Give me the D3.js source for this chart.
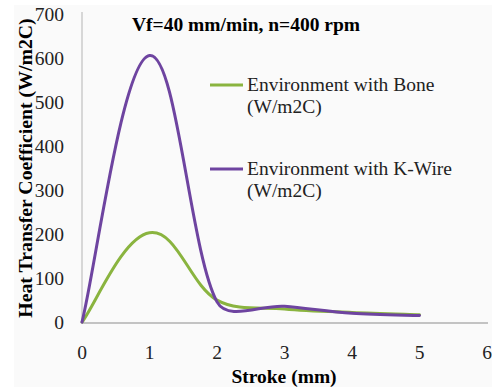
<!DOCTYPE html>
<html>
<head>
<meta charset="utf-8">
<script src="https://cdn.jsdelivr.net/npm/d3@7"></script>
<style>
  body { margin: 0; background: #fff; }
</style>
</head>
<body>
<div id="chart_div"></div>
<script>
// data
var stroke = [0, 1, 2, 3, 4, 5];
var boneValues = [2, 205, 52, 32, 24, 19];
var kwireValues = [2, 608, 48, 38, 22, 17];
var xTicks = [0, 1, 2, 3, 4, 5, 6];
var yTicks = [0, 100, 200, 300, 400, 500, 600, 700];
var seriesNames = ["Environment with Bone", "Environment with K-Wire"];
var seriesUnit = "(W/m2C)";
var seriesColors = ["#8ab43f", "#6e44a0"];

var W = 492, H = 392;
var margin = {top: 15, right: 5, bottom: 69, left: 82};
var serif = "'Liberation Serif', 'Times New Roman', serif";
var fs = "19.5px";

var svg = d3.select("#chart_div")
  .append("svg")
  .attr("width", W)
  .attr("height", H)
  .style("font-family", serif);

// light panel behind the chart
svg.append("rect")
  .attr("x", 14).attr("y", 5)
  .attr("width", W - 14).attr("height", 382)
  .attr("fill", "#fafafa");

var xScale = d3.scaleLinear().domain([0, 6]).range([margin.left, W - margin.right]);
var yScale = d3.scaleLinear().domain([0, 700]).range([H - margin.bottom, margin.top]);

// axes lines
svg.append("line")
  .attr("x1", xScale(0)).attr("x2", xScale(0))
  .attr("y1", yScale(700) - 3).attr("y2", yScale(0))
  .attr("stroke", "#b4b4b4").attr("stroke-width", 1);
svg.append("line")
  .attr("x1", xScale(0)).attr("x2", xScale(6) + 1)
  .attr("y1", yScale(0)).attr("y2", yScale(0))
  .attr("stroke", "#8c8c8c").attr("stroke-width", 1);

// tick labels
svg.selectAll(".y_tick").data(yTicks).enter()
  .append("text")
  .attr("class", "y_tick")
  .attr("x", xScale(0) - 18)
  .attr("y", function(d) { return yScale(d); })
  .attr("dy", "0.33em")
  .attr("text-anchor", "end")
  .attr("fill", "#222")
  .style("font-size", fs)
  .text(function(d) { return d; });

svg.selectAll(".x_tick").data(xTicks).enter()
  .append("text")
  .attr("class", "x_tick")
  .attr("x", function(d) { return xScale(d); })
  .attr("y", 359)
  .attr("text-anchor", "middle")
  .attr("fill", "#222")
  .style("font-size", fs)
  .text(function(d) { return d; });

// smoothed line like a spreadsheet: tangent (next - prev)/5,
// control arm limited to a third of the segment it sits on
function smoothPath(pts) {
  var n = pts.length, tan = [];
  for (var i = 0; i < n; i++) {
    var a = pts[Math.max(i - 1, 0)], b = pts[Math.min(i + 1, n - 1)];
    tan.push([(b[0] - a[0]) / 5, (b[1] - a[1]) / 5]);
  }
  function arm(t, len) {
    var l = Math.hypot(t[0], t[1]), k = l > len / 3 ? len / 3 / l : 1;
    return [t[0] * k, t[1] * k];
  }
  var p = d3.path();
  p.moveTo(pts[0][0], pts[0][1]);
  for (var j = 0; j < n - 1; j++) {
    var p0 = pts[j], p1 = pts[j + 1];
    var len = Math.hypot(p1[0] - p0[0], p1[1] - p0[1]);
    var t0 = arm(tan[j], len), t1 = arm(tan[j + 1], len);
    p.bezierCurveTo(p0[0] + t0[0], p0[1] + t0[1], p1[0] - t1[0], p1[1] - t1[1], p1[0], p1[1]);
  }
  return p.toString();
}

[boneValues, kwireValues].forEach(function(vals, i) {
  var pts = stroke.map(function(s, j) { return [xScale(s), yScale(vals[j])]; });
  svg.append("path")
    .attr("d", smoothPath(pts))
    .attr("fill", "none")
    .attr("stroke", seriesColors[i])
    .attr("stroke-width", 3)
    .attr("stroke-linejoin", "round")
    .attr("stroke-linecap", "round");
});

// title
svg.append("text")
  .attr("x", 132)
  .attr("y", 31)
  .style("font-size", fs)
  .style("font-weight", "bold")
  .attr("fill", "#000")
  .text("Vf=40 mm/min, n=400 rpm");

// legend
var legendY = [85, 169];
seriesNames.forEach(function(name, i) {
  var g = svg.append("g");
  g.append("line")
    .attr("x1", 210).attr("x2", 243)
    .attr("y1", legendY[i]).attr("y2", legendY[i])
    .attr("stroke", seriesColors[i]).attr("stroke-width", 3);
  g.append("text")
    .attr("x", 247).attr("y", legendY[i] + 6)
    .attr("fill", "#222")
    .style("font-size", fs)
    .text(name);
  g.append("text")
    .attr("x", 247).attr("y", legendY[i] + 28)
    .attr("fill", "#222")
    .style("font-size", fs)
    .text(seriesUnit);
});

// axis titles
svg.append("text")
  .attr("transform", "translate(32,168) rotate(-90)")
  .attr("text-anchor", "middle")
  .style("font-size", "19.8px")
  .style("font-weight", "bold")
  .attr("fill", "#000")
  .text("Heat Transfer Coefficient (W/m2C)");

svg.append("text")
  .attr("x", 284)
  .attr("y", 383)
  .attr("text-anchor", "middle")
  .style("font-size", fs)
  .style("font-weight", "bold")
  .attr("fill", "#000")
  .text("Stroke (mm)");
</script>
</body>
</html>
